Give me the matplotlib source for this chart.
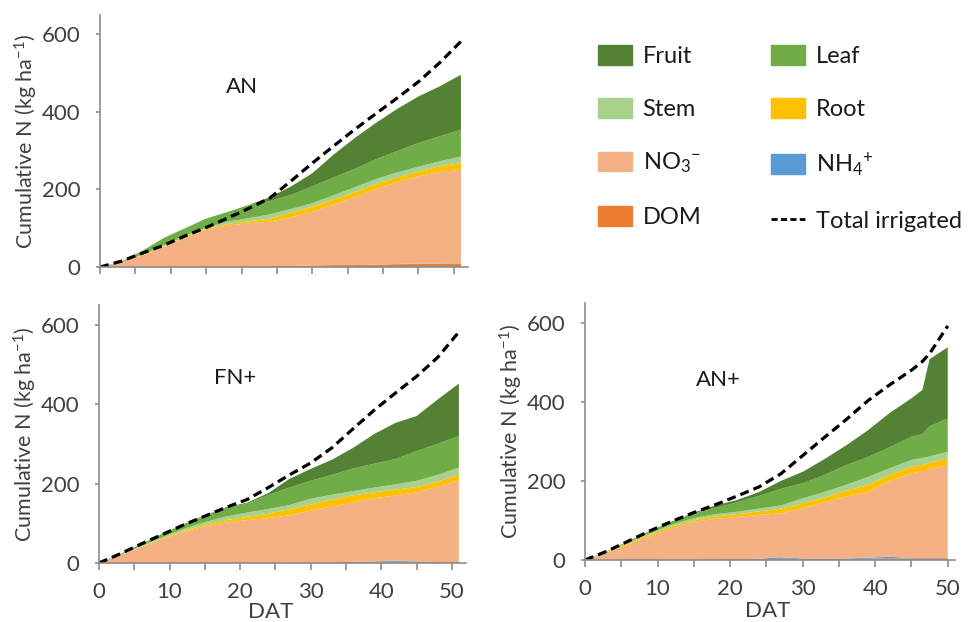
import matplotlib
matplotlib.use('Agg')
import matplotlib.pyplot as plt
from matplotlib.patches import Patch
from matplotlib.lines import Line2D
from matplotlib.ticker import MultipleLocator

plt.rcParams['font.family'] = ['Lato', 'DejaVu Sans']
plt.rcParams['mathtext.fontset'] = 'custom'
plt.rcParams['mathtext.rm'] = 'Lato'
plt.rcParams['mathtext.it'] = 'Lato'

# --- AN (top left) ---
an_days = [0, 3, 6, 9, 12, 15, 18, 21, 24, 27, 30, 33, 36, 39, 42, 45, 48, 51]
an_dom = [0, 0, 0, 0, 0, 0, 0, 0, 2, 3, 4, 5, 5, 6, 7, 8, 8, 9]
an_nh4 = [0, 0, 0, 0, 0, 0, 0, 0, 0, 0, 0, 0, 0, 0, 1, 1, 1, 1]
an_no3 = [0, 12, 30, 52, 75, 95, 107, 113, 115, 125, 139, 156, 175, 195, 210, 225, 236, 241]
an_root = [0, 0, 1, 2, 3, 3, 4, 5, 8, 12, 13, 13, 13, 13, 13, 12, 15, 17]
an_stem = [0, 0, 1, 2, 3, 4, 6, 8, 11, 10, 9, 11, 13, 13, 13, 13, 13, 17]
an_leaf = [0, 2, 10, 19, 19, 23, 25, 34, 34, 36, 43, 46, 47, 51, 55, 61, 64, 69]
an_fruit = [0, 0, 0, 0, 0, 0, 0, 0, 10, 22, 34, 59, 80, 94, 109, 120, 129, 142]
an_irrig = [0, 15, 36, 56, 80, 102, 126, 151, 178, 222, 268, 312, 355, 396, 436, 478, 527, 582]

# --- FN+ (bottom left) ---
fn_days = [0, 3, 6, 9, 12, 15, 18, 21, 24, 27, 30, 33, 36, 39, 42, 45, 48, 51]
fn_dom = [0, 0, 0, 0, 0, 0, 0, 0, 0, 1, 2, 2, 3, 3, 3, 3, 4, 4]
fn_nh4 = [0, 0, 0, 0, 0, 0, 0, 0, 0, 0, 0, 0, 0, 1, 3, 1, 0, 0]
fn_no3 = [0, 20, 40, 60, 78, 92, 102, 108, 113, 119, 130, 140, 149, 159, 164, 174, 188, 204]
fn_root = [0, 0, 1, 2, 3, 4, 6, 8, 11, 16, 15, 18, 18, 15, 15, 13, 13, 15]
fn_stem = [0, 1, 2, 3, 5, 7, 9, 11, 12, 10, 15, 12, 11, 12, 13, 16, 17, 17]
fn_leaf = [0, 2, 5, 9, 12, 17, 21, 23, 35, 44, 45, 50, 57, 60, 64, 75, 78, 80]
fn_fruit = [0, 0, 0, 0, 0, 0, 2, 2, 5, 22, 30, 38, 52, 75, 91, 88, 112, 132]
fn_irrig = [0, 23, 48, 72, 96, 118, 140, 160, 190, 222, 252, 290, 338, 385, 428, 470, 518, 582]

# --- AN+ (bottom right) ---
anp_days = [0, 3, 6, 9, 12, 15, 18, 21, 24, 27, 30, 33, 36, 39, 42, 45, 46.5, 47.5, 50]
anp_dom = [0, 0, 1, 1, 1, 1, 2, 2, 2, 3, 3, 3, 3, 3, 4, 4, 4, 4, 4]
anp_nh4 = [0, 1, 1, 1, 0, 0, 0, 0, 1, 4, 1, 1, 1, 3, 4, 1, 1, 1, 1]
anp_no3 = [0, 17, 37, 58, 79, 96, 102, 107, 111, 111, 127, 142, 156, 166, 192, 214, 219, 225, 235]
anp_root = [0, 2, 3, 4, 5, 4, 6, 7, 9, 12, 12, 12, 15, 18, 15, 17, 17, 16, 17]
anp_stem = [0, 1, 3, 4, 5, 5, 6, 6, 7, 8, 13, 14, 15, 20, 17, 17, 17, 16, 17]
anp_leaf = [0, 1, 3, 6, 8, 12, 16, 24, 32, 42, 38, 43, 50, 50, 53, 59, 60, 76, 84]
anp_fruit = [0, 0, 0, 0, 0, 2, 6, 6, 10, 20, 29, 40, 50, 68, 87, 97, 112, 170, 180]
anp_irrig = [0, 22, 48, 74, 98, 120, 140, 162, 185, 218, 264, 310, 355, 403, 443, 480, 502, 522, 592]

# colours, bottom to top of the stack
colors = {
    'DOM': '#ED7D31',
    'NH4': '#5B9BD5',
    'NO3': '#F4B183',
    'Root': '#FFC000',
    'Stem': '#A9D18E',
    'Leaf': '#70AD47',
    'Fruit': '#548235',
}
order = ['DOM', 'NH4', 'NO3', 'Root', 'Stem', 'Leaf', 'Fruit']

FS = 16
TXT = '#404040'
SPINE = '#8c8c8c'


def draw_panel(ax, days, series, irrig, label, label_pos, xmax, show_xlabels):
    ax.stackplot(days, *[series[k] for k in order],
                 colors=[colors[k] for k in order], linewidth=0)
    ax.plot(days, irrig, color='black', lw=2.3, linestyle=(0, (2.8, 1.6)))
    ax.set_xlim(0, xmax)
    ax.set_ylim(0, 650)
    ax.set_yticks([0, 200, 400, 600])
    ax.xaxis.set_major_locator(MultipleLocator(10))
    ax.xaxis.set_minor_locator(MultipleLocator(5))
    for s in ['top', 'right']:
        ax.spines[s].set_visible(False)
    for s in ['left', 'bottom']:
        ax.spines[s].set_color(SPINE)
        ax.spines[s].set_linewidth(1.2)
    ax.tick_params(axis='both', which='both', direction='out', color=SPINE,
                   width=1.2, labelsize=FS, labelcolor=TXT)
    ax.tick_params(axis='x', which='both', length=5, pad=9)
    ax.tick_params(axis='y', length=3, pad=11)
    if show_xlabels:
        ax.set_xlabel('DAT', fontsize=FS, color=TXT)
    else:
        ax.tick_params(axis='x', labelbottom=False)
    ax.set_ylabel('Cumulative N (kg ha$^{-1}$)', fontsize=15.5, color=TXT, labelpad=1)
    ax.text(label_pos[0], label_pos[1], label, transform=ax.transAxes,
            ha='center', va='center', fontsize=FS, color='#1a1a1a')


fig = plt.figure(figsize=(9.75, 6.22), dpi=100)

ax1 = fig.add_axes([0.1026, 0.5707, 0.3774, 0.4051])
ax2 = fig.add_axes([0.1015, 0.0949, 0.3764, 0.4148])
ax3 = fig.add_axes([0.6000, 0.0997, 0.3795, 0.4132])

draw_panel(ax1, an_days,
           dict(DOM=an_dom, NH4=an_nh4, NO3=an_no3, Root=an_root,
                Stem=an_stem, Leaf=an_leaf, Fruit=an_fruit),
           an_irrig, 'AN', (0.385, 0.715), 52, False)
draw_panel(ax2, fn_days,
           dict(DOM=fn_dom, NH4=fn_nh4, NO3=fn_no3, Root=fn_root,
                Stem=fn_stem, Leaf=fn_leaf, Fruit=fn_fruit),
           fn_irrig, 'FN+', (0.372, 0.717), 52, True)
draw_panel(ax3, anp_days,
           dict(DOM=anp_dom, NH4=anp_nh4, NO3=anp_no3, Root=anp_root,
                Stem=anp_stem, Leaf=anp_leaf, Fruit=anp_fruit),
           anp_irrig, 'AN+', (0.36, 0.70), 51, True)
ax2.xaxis.set_label_coords(0.468, -0.152)
ax3.xaxis.set_label_coords(0.495, -0.160)

# legend: column-wise filling
handles = [
    Patch(color=colors['Fruit']), Patch(color=colors['Stem']),
    Patch(color=colors['NO3']), Patch(color=colors['DOM']),
    Patch(color=colors['Leaf']), Patch(color=colors['Root']),
    Patch(color=colors['NH4']),
    Line2D([], [], color='black', lw=2.0, linestyle=(0, (2.2, 1.2))),
]
labels = ['Fruit', 'Stem', 'NO$_3$$^{-}$', 'DOM',
          'Leaf', 'Root', 'NH$_4$$^{+}$', 'Total irrigated']
leg = fig.legend(handles, labels, loc='upper left', bbox_to_anchor=(0.613, 0.927),
                 ncol=2, frameon=False, fontsize=17, handlelength=1.45,
                 handleheight=0.9, handletextpad=0.45, labelspacing=1.3,
                 columnspacing=2.95, borderpad=0, borderaxespad=0)
for t in leg.get_texts():
    t.set_color('#1a1a1a')

fig.savefig('out.png', dpi=100)
